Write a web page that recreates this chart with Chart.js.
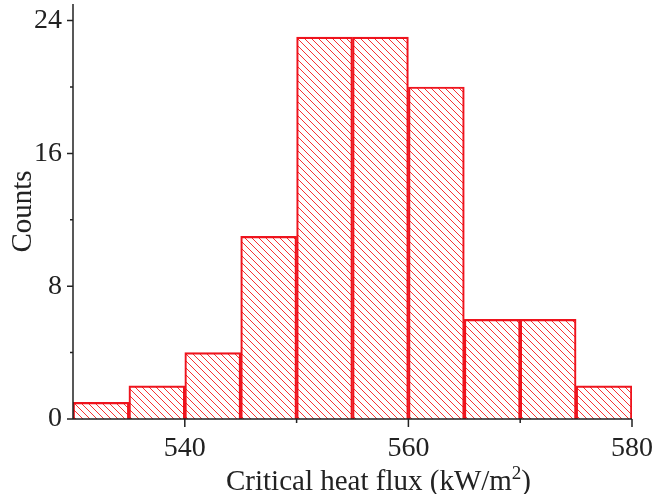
<!DOCTYPE html>
<html><head><meta charset="utf-8">
<script src="https://cdn.jsdelivr.net/npm/chart.js@4"></script>
<style>html,body{margin:0;padding:0;background:#fff}#wrap{width:665px;height:494px}</style>
</head><body><div id="wrap"><canvas id="c" width="665" height="494"></canvas></div>
<script>
const binStarts = [530, 535, 540, 545, 550, 555, 560, 565, 570, 575];
const binWidth = 5;
const counts = [1, 2, 4, 11, 23, 23, 20, 6, 6, 2];
const xTickLabels = [540, 560, 580];
const xMinorTicks = [550, 570];
const yTickLabels = [0, 8, 16, 24];
const yMinorTicks = [4, 12, 20];
const xTitle = 'Critical heat flux (kW/m';
const xTitleSup = '2';
const xTitleEnd = ')';

const FONT = 'Liberation Serif';
const INK = '#222';
const RED = 'rgb(238,20,30)';

const canvas = document.getElementById('c');
const ctx = canvas.getContext('2d');

function makeHatch() {
  const s = 7;
  const c = document.createElement('canvas');
  c.width = s; c.height = s;
  const g = c.getContext('2d');
  g.strokeStyle = 'rgba(245,0,0,0.8)';
  g.lineWidth = 1;
  for (const k of [-s, 0, s]) {
    g.beginPath();
    g.moveTo(-1, -1 + k);
    g.lineTo(s + 1, s + 1 + k);
    g.stroke();
  }
  return ctx.createPattern(c, 'repeat');
}

const axesPlugin = {
  id: 'axesPlugin',
  afterDatasetsDraw(chart) {
    const { ctx, scales: { x, y }, chartArea: a } = chart;
    ctx.save();
    ctx.strokeStyle = INK;
    ctx.lineWidth = 1.5;
    ctx.beginPath();
    ctx.moveTo(a.left, a.top);
    ctx.lineTo(a.left, a.bottom);
    ctx.lineTo(a.right, a.bottom);
    for (const v of xTickLabels) { const p = x.getPixelForValue(v); ctx.moveTo(p, a.bottom); ctx.lineTo(p, a.bottom + 8); }
    for (const v of xMinorTicks) { const p = x.getPixelForValue(v); ctx.moveTo(p, a.bottom); ctx.lineTo(p, a.bottom + 4); }
    for (const v of yTickLabels) { const p = y.getPixelForValue(v); ctx.moveTo(a.left, p); ctx.lineTo(a.left - 6, p); }
    for (const v of yMinorTicks) { const p = y.getPixelForValue(v); ctx.moveTo(a.left, p); ctx.lineTo(a.left - 3, p); }
    ctx.stroke();

    // x axis title with superscript
    const big = '29px "' + FONT + '"';
    const small = '19px "' + FONT + '"';
    ctx.fillStyle = INK;
    ctx.textBaseline = 'alphabetic';
    ctx.textAlign = 'left';
    ctx.font = big; const w1 = ctx.measureText(xTitle).width; const w3 = ctx.measureText(xTitleEnd).width;
    ctx.font = small; const w2 = ctx.measureText(xTitleSup).width;
    const total = w1 + w2 + w3;
    const cx = (a.left + a.right) / 2 + 26;
    let xx = cx - total / 2;
    const base = a.bottom + 71;
    ctx.font = big; ctx.fillText(xTitle, xx, base); xx += w1;
    ctx.font = small; ctx.fillText(xTitleSup, xx, base - 11); xx += w2;
    ctx.font = big; ctx.fillText(xTitleEnd, xx, base);
    ctx.restore();
  }
};

const chart = new Chart(ctx, {
  type: 'bar',
  data: {
    datasets: [{
      data: binStarts.map((b, i) => ({ x: b + binWidth / 2, y: counts[i] })),
      backgroundColor: makeHatch(),
      borderColor: RED,
      borderWidth: 1.5,
      barPercentage: 1,
      categoryPercentage: 1,
      grouped: false
    }]
  },
  options: {
    responsive: false,
    animation: false,
    devicePixelRatio: 1,
    layout: { padding: { top: 4, right: 33, left: 0, bottom: 0 } },
    plugins: { legend: { display: false }, tooltip: { enabled: false } },
    scales: {
      x: {
        type: 'linear', min: 530, max: 580, offset: false,
        afterBuildTicks: s => { s.ticks = xTickLabels.map(v => ({ value: v })); },
        afterFit: s => { s.height = 75; s.paddingLeft = 0; s.paddingRight = 0; },
        grid: { display: false, offset: false }, border: { display: false },
        ticks: { font: { family: FONT, size: 28 }, color: INK, padding: 5, maxRotation: 0, autoSkip: false },
        title: { display: false }
      },
      y: {
        min: 0, max: 25,
        afterBuildTicks: s => { s.ticks = yTickLabels.map(v => ({ value: v })); },
        afterFit: s => { s.width = 73; s.paddingTop = 0; s.paddingBottom = 0; },
        grid: { display: false }, border: { display: false },
        ticks: { font: { family: FONT, size: 28 }, color: INK, padding: 3 },
        title: { display: true, text: 'Counts', font: { family: FONT, size: 29 }, color: INK, padding: { top: 6, bottom: 0 } }
      }
    }
  },
  plugins: [axesPlugin]
});
</script></body></html>
